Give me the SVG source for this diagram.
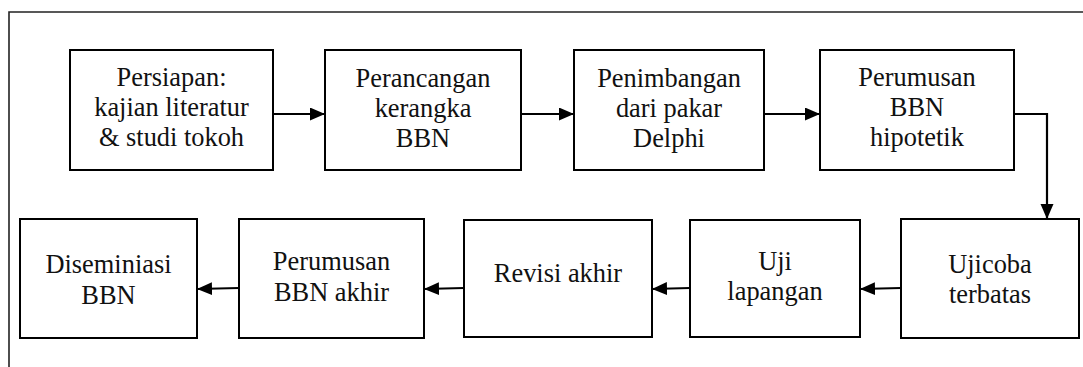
<svg xmlns="http://www.w3.org/2000/svg" width="1083" height="367" viewBox="0 0 1083 367">
<style>
.box{fill:#fff;stroke:#000;stroke-width:2}
.t{font-size:26.4px;fill:#111;text-anchor:middle}
.c{fill:none;stroke:#000;stroke-width:2.2}
.frame{fill:none;stroke:#222;stroke-width:1.6}
</style>
<defs>
<marker id="ah" markerUnits="userSpaceOnUse" markerWidth="16" markerHeight="14" refX="15" refY="6.5" orient="auto">
<path d="M0,0 L15,6.5 L0,13 z" fill="#000"/>
</marker>
</defs>
<rect width="1083" height="367" fill="#fff"/>
<path class="frame" d="M9,367 L9,12 L1083,12"/>
<g id="n1" font-family="Liberation Serif"><rect class="box" x="70" y="50" width="203" height="120"/>
<text class="t" x="171.5" y="86">Persiapan:</text>
<text class="t" x="171.5" y="116">kajian literatur</text>
<text class="t" x="171.5" y="146">&amp; studi tokoh</text></g>
<g id="n2" font-family="Liberation Serif"><rect class="box" x="325" y="50" width="196" height="120"/>
<text class="t" x="423" y="87">Perancangan</text>
<text class="t" x="423" y="117">kerangka</text>
<text class="t" x="423" y="147">BBN</text></g>
<g id="n3" font-family="Liberation Serif"><rect class="box" x="574" y="50" width="190" height="120"/>
<text class="t" x="669" y="87">Penimbangan</text>
<text class="t" x="669" y="117">dari pakar</text>
<text class="t" x="669" y="147">Delphi</text></g>
<g id="n4" font-family="Liberation Serif"><rect class="box" x="820" y="50" width="194" height="120"/>
<text class="t" x="917" y="86">Perumusan</text>
<text class="t" x="917" y="116">BBN</text>
<text class="t" x="917" y="146">hipotetik</text></g>
<g id="n5" font-family="Liberation Serif"><rect class="box" x="901" y="219" width="178" height="119"/>
<text class="t" x="990" y="273">Ujicoba</text>
<text class="t" x="990" y="303">terbatas</text></g>
<g id="n6" font-family="Liberation Serif"><rect class="box" x="690" y="220" width="170" height="117"/>
<text class="t" x="775" y="270">Uji</text>
<text class="t" x="775" y="300">lapangan</text></g>
<g id="n7" font-family="Liberation Serif"><rect class="box" x="464" y="220" width="188" height="117"/>
<text class="t" x="558" y="282">Revisi akhir</text></g>
<g id="n8" font-family="Liberation Serif"><rect class="box" x="239" y="219" width="185" height="119"/>
<text class="t" x="331.5" y="270">Perumusan</text>
<text class="t" x="331.5" y="301">BBN akhir</text></g>
<g id="n9" font-family="Liberation Serif"><rect class="box" x="20" y="219" width="177" height="119"/>
<text class="t" x="108.5" y="273">Diseminiasi</text>
<text class="t" x="108.5" y="304">BBN</text></g>
<g id="connectors">
<path class="c" d="M273,114 L325,114" marker-end="url(#ah)"/>
<path class="c" d="M521,114 L574,114" marker-end="url(#ah)"/>
<path class="c" d="M764,114 L820,114" marker-end="url(#ah)"/>
<path class="c" d="M1014,114 L1047,114 L1047,219" marker-end="url(#ah)"/>
<path class="c" d="M901,288 L860,289" marker-end="url(#ah)"/>
<path class="c" d="M690,288 L652,289" marker-end="url(#ah)"/>
<path class="c" d="M464,288 L424,289" marker-end="url(#ah)"/>
<path class="c" d="M239,288 L197,289" marker-end="url(#ah)"/>
</g>
</svg>
